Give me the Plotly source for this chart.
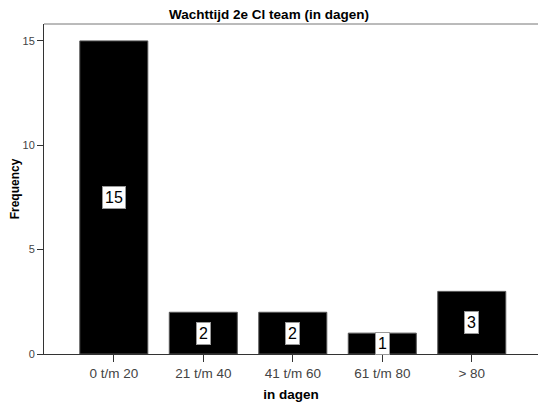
import plotly.graph_objects as go

categories = ["0 t/m 20", "21 t/m 40", "41 t/m 60", "61 t/m 80", "> 80"]
counts = [15, 2, 2, 1, 3]
y_ticks = [0, 5, 10, 15]

font_family = "Liberation Sans, Arial, sans-serif"

fig = go.Figure()
fig.add_trace(go.Bar(
    x=list(range(len(categories))),
    y=counts,
    width=0.76,
    marker=dict(color="black", line=dict(color="#555555", width=1)),
    hoverinfo="skip",
))

for i, v in enumerate(counts):
    fig.add_annotation(
        x=i, y=v / 2, text=str(v), showarrow=False,
        font=dict(family=font_family, size=16, color="black"),
        bgcolor="white", borderpad=2, bordercolor="#999999", borderwidth=1,
    )

# top frame line
fig.add_shape(type="line", xref="paper", yref="paper", x0=0, x1=1, y0=1, y1=1,
              line=dict(color="#777777", width=1))

fig.update_layout(
    width=538, height=403,
    margin=dict(l=44, r=0, t=24, b=49),
    paper_bgcolor="white", plot_bgcolor="white",
    showlegend=False,
    title=dict(text="<b>Wachttijd 2e Cl team (in dagen)</b>", x=0.5, xanchor="center",
               y=1 - 14 / 403, yanchor="middle",
               font=dict(family=font_family, size=13.5, color="black")),
    xaxis=dict(
        range=[-0.78, 4.74],
        tickmode="array", tickvals=list(range(len(categories))), ticktext=categories,
        ticks="outside", ticklen=7, tickcolor="#333333",
        showline=True, linecolor="#333333", linewidth=1,
        showgrid=False, zeroline=False,
        tickfont=dict(family=font_family, size=13.5, color="#444444"),
        title=dict(text="<b>in dagen</b>", standoff=9,
                   font=dict(family=font_family, size=13.5, color="black")),
        automargin=False,
    ),
    yaxis=dict(
        range=[0, 15.81],
        tickmode="array", tickvals=y_ticks,
        ticks="outside", ticklen=6, tickcolor="#333333",
        showline=True, linecolor="#333333", linewidth=1,
        showgrid=False, zeroline=False,
        tickfont=dict(family=font_family, size=11, color="#444444"),
        title=dict(text="<b>Frequency</b>", standoff=0,
                   font=dict(family=font_family, size=12, color="black")),
        automargin=False,
    ),
)

fig.write_html("out.html")
